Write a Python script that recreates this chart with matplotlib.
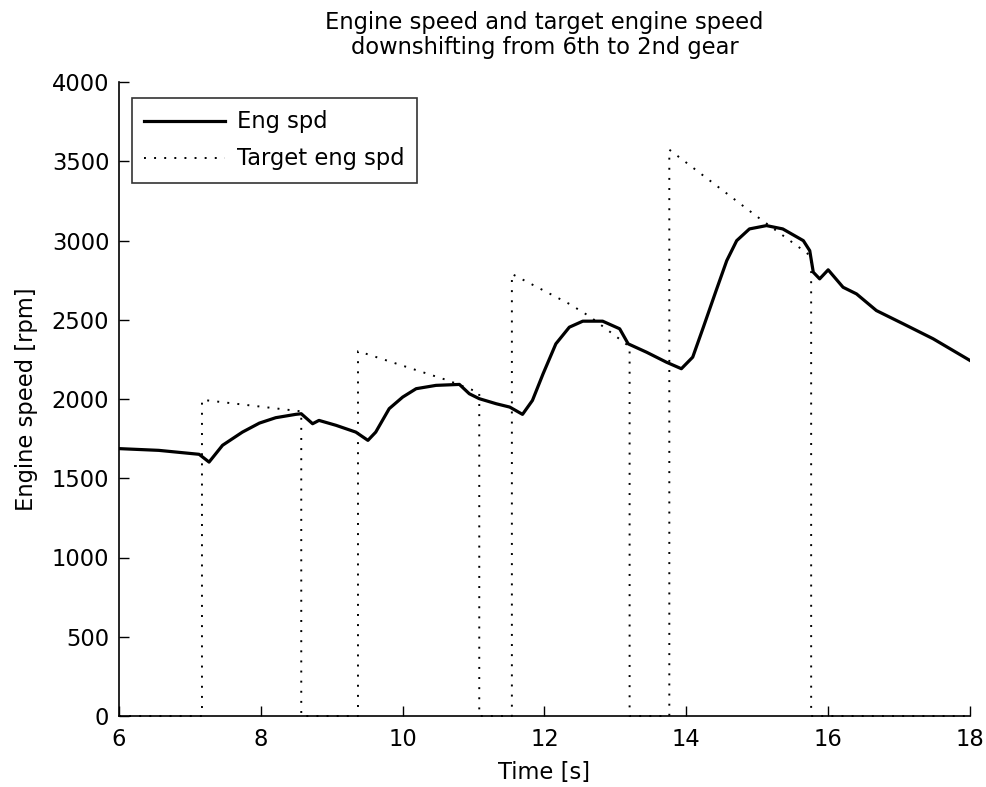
import matplotlib
matplotlib.use("Agg")
import matplotlib.pyplot as plt

# Engine speed (solid)
eng_t = [6.0, 6.56, 7.13, 7.27, 7.46, 7.74, 7.98, 8.21, 8.49, 8.57, 8.73, 8.82,
         9.06, 9.34, 9.51, 9.62, 9.81, 10.0, 10.19, 10.47, 10.80, 10.94, 11.08,
         11.32, 11.51, 11.69, 11.83, 11.98, 12.16, 12.35, 12.54, 12.82, 13.06,
         13.18, 13.44, 13.72, 13.93, 14.09, 14.24, 14.42, 14.57, 14.71, 14.89,
         15.13, 15.36, 15.65, 15.74, 15.79, 15.88, 16.0, 16.21, 16.40, 16.68,
         17.06, 17.48, 18.0]
eng_spd = [1687, 1676, 1651, 1602, 1708, 1791, 1848, 1882, 1903, 1907, 1844, 1865,
           1834, 1791, 1739, 1791, 1939, 2012, 2065, 2086, 2092, 2033, 2002,
           1970, 1949, 1903, 1991, 2159, 2348, 2453, 2491, 2491, 2443,
           2348, 2295, 2232, 2191, 2264, 2453, 2684, 2873, 2999, 3073,
           3094, 3073, 2999, 2936, 2800, 2758, 2815, 2705, 2663, 2558,
           2474, 2380, 2243]

# Target engine speed (dotted)
tgt_t = [6.0, 7.17, 7.17, 8.57, 8.57, 9.37, 9.37, 10.64, 11.08, 11.08,
         11.54, 11.54, 12.35, 12.64, 13.2, 13.2, 13.76, 13.76, 15.0, 15.62,
         15.76, 15.76, 18.0]
tgt_spd = [0, 0, 1995, 1922, 0, 0, 2302, 2117, 2040, 0,
           0, 2789, 2600, 2520, 2330, 0, 0, 3573, 3150, 2947,
           2900, 0, 0]

title_text = "Engine speed and target engine speed\ndownshifting from 6th to 2nd gear"
xlabel_text = "Time [s]"
ylabel_text = "Engine speed [rpm]"
legend_labels = ["Eng spd", "Target eng spd"]
xticks = [6, 8, 10, 12, 14, 16, 18]
yticks = [0, 500, 1000, 1500, 2000, 2500, 3000, 3500, 4000]

plt.rcParams['font.family'] = ['DejaVu Sans']
FS = 16.3

W, H = 986, 787
fig = plt.figure(figsize=(W / 100, H / 100), dpi=100)
ax = fig.add_axes([119 / W, 1 - 716 / H, (970 - 119) / W, (716 - 82) / H])

ax.plot(eng_t, eng_spd, color='black', lw=2.3, label=legend_labels[0], zorder=3)
ax.plot(tgt_t, tgt_spd, color='black', lw=1.4, linestyle=(0, (1.0, 4.2)),
        label=legend_labels[1], zorder=2, clip_on=False)

ax.set_xlim(6, 18)
ax.set_ylim(0, 4000)
ax.set_xticks(xticks)
ax.set_yticks(yticks)
ax.tick_params(direction='in', length=7, width=1, labelsize=FS)
ax.tick_params(axis='x', pad=9)
ax.tick_params(axis='y', pad=7)
ax.spines['top'].set_visible(False)
ax.spines['right'].set_visible(False)
for s in ('left', 'bottom'):
    ax.spines[s].set_linewidth(1.2)

ax.set_title(title_text, fontsize=FS, pad=20, linespacing=1.15)
ax.set_xlabel(xlabel_text, fontsize=FS, labelpad=7)
ax.set_ylabel(ylabel_text, fontsize=FS, labelpad=10)

leg = ax.legend(loc='upper left', bbox_to_anchor=(13 / 851, 1 - 16 / 634),
                borderaxespad=0, fontsize=FS, frameon=True, fancybox=False,
                edgecolor='black', handlelength=3.55, handletextpad=0.55,
                borderpad=0.55, labelspacing=0.62)
leg.get_frame().set_linewidth(1.2)

fig.savefig("out.png", dpi=100)
